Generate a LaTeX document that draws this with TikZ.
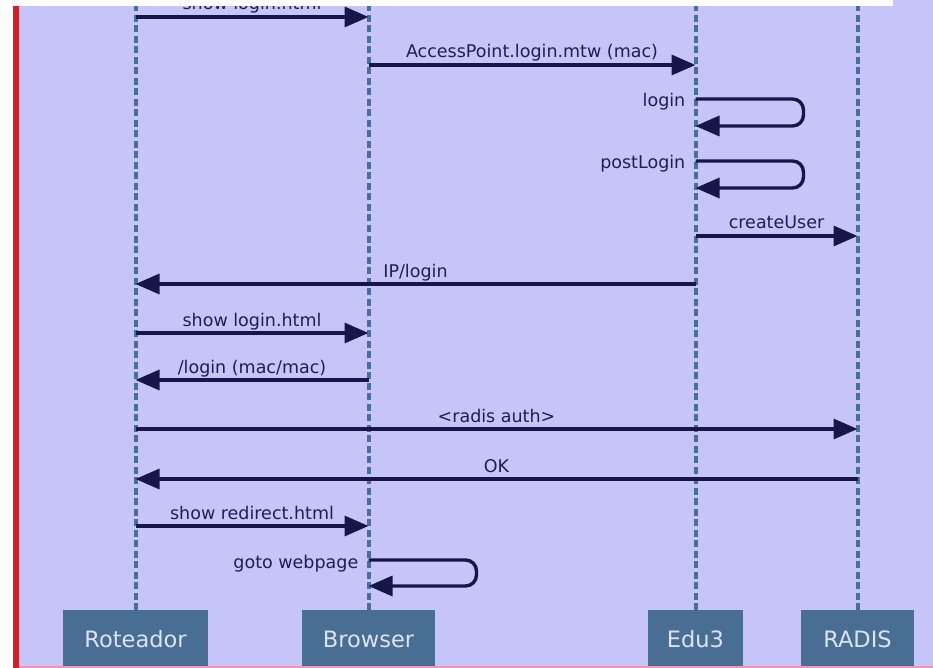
\documentclass[tikz,border=0pt]{standalone}
\usepackage{fontspec}
\setmainfont{DejaVu Sans}
\usetikzlibrary{arrows.meta}
\definecolor{bgc}{RGB}{197,197,250}
\definecolor{boxc}{RGB}{72,110,148}
\definecolor{boxtext}{RGB}{222,226,245}
\definecolor{lifec}{RGB}{70,110,158}
\definecolor{arrowc}{RGB}{22,22,72}
\definecolor{labelc}{RGB}{30,30,80}
\definecolor{redc}{RGB}{212,30,40}
\definecolor{pinkc}{RGB}{240,150,175}
\begin{document}
\begin{tikzpicture}[x=1pt,y=-1pt,
  msg/.style={draw=arrowc, line width=3.4pt, -{Triangle[length=24pt 0 0,width=20pt 0]}},
  lbl/.style={font=\fontsize{17.5}{20}\selectfont, text=labelc, inner sep=0pt, anchor=base, yshift=7pt},
  selflbl/.style={font=\fontsize{17.5}{20}\selectfont, text=labelc, inner sep=0pt, anchor=base east},
  actor/.style={fill=boxc, text=boxtext, minimum height=58pt, font=\fontsize{22.5}{26}\selectfont, inner sep=0pt, anchor=north},
  life/.style={draw=lifec, line width=4pt, dash pattern=on 7pt off 3.5pt}]
\useasboundingbox (0,0) rectangle (933,668);
\fill[bgc] (0,0) rectangle (933,668);

% actors
\node[actor, minimum width=145pt] (rt) at (135.5,610) {Roteador};
\node[actor, minimum width=133pt] (br) at (368.5,610) {Browser};
\node[actor, minimum width=95pt]  (ed) at (695.5,610) {Edu3};
\node[actor, minimum width=113pt] (rd) at (857.5,610) {RADIS};

% lifelines
\foreach \a in {rt,br,ed,rd}
  \draw[life] (\a.north) -- (\a.north |- 0,0);

% messages
\draw[msg] (rt |- 0,17) -- (br |- 0,17) node[midway, lbl] {show login.html};
\draw[msg] (br |- 0,65) -- (ed |- 0,65) node[midway, lbl] {AccessPoint.login.mtw (mac)};

\draw[msg, rounded corners=11pt] (ed |- 0,99) -- ++(108,0) -- ++(0,27) -- (ed |- 0,126);
\node[selflbl] (l1) at ([xshift=-10pt]ed |- 0,107) {login};

\draw[msg, rounded corners=11pt] (ed |- 0,161) -- ++(108,0) -- ++(0,27) -- (ed |- 0,188);
\node[selflbl] (l2) at ([xshift=-10pt]ed |- 0,169) {postLogin};

\draw[msg] (ed |- 0,236) -- (rd |- 0,236) node[midway, lbl] {createUser};
\draw[msg] (ed |- 0,284) -- (rt |- 0,284) node[midway, lbl] {IP/login};
\draw[msg] (rt |- 0,333) -- (br |- 0,333) node[midway, lbl] {show login.html};
\draw[msg] (br |- 0,380) -- (rt |- 0,380) node[midway, lbl] {/login (mac/mac)};
\draw[msg] (rt |- 0,429) -- (rd |- 0,429) node[midway, lbl] {<radis auth>};
\draw[msg] (rd |- 0,479) -- (rt |- 0,479) node[midway, lbl] {OK};
\draw[msg] (rt |- 0,526) -- (br |- 0,526) node[midway, lbl] {show redirect.html};

\draw[msg, rounded corners=11pt] (br |- 0,560) -- ++(108,0) -- ++(0,26) -- (br |- 0,586);
\node[selflbl] (l3) at ([xshift=-10pt]br |- 0,568) {goto webpage};

% frame overlays
\fill[white] (0,0) rectangle (893,6);
\fill[white] (0,0) rectangle (13,668);
\fill[redc] (13,6) rectangle (19,668);
\fill[pinkc] (19,665.5) rectangle (933,668);
\end{tikzpicture}
\end{document}
